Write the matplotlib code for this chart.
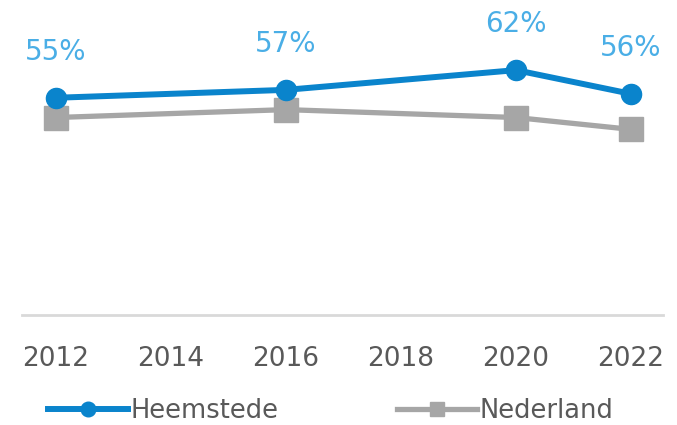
import matplotlib.pyplot as plt
from matplotlib.lines import Line2D

years = [2012, 2016, 2020, 2022]
heemstede = [55, 57, 62, 56]
nederland = [50, 52, 50, 47]
xticks = [2012, 2014, 2016, 2018, 2020, 2022]
series_names = ['Heemstede', 'Nederland']

blue = '#0A84CC'
label_blue = '#4AAEE6'
grey = '#A6A6A6'
text_grey = '#595959'

fig = plt.figure(figsize=(6.77, 4.25), dpi=100)
ax = fig.add_axes([0.0325, 0.2588, 0.947, 0.7435])

ax.plot(years, nederland, color=grey, lw=3.8, marker='s', ms=17, zorder=2)
ax.plot(years, heemstede, color=blue, lw=4.3, marker='o', ms=14.5, zorder=3)

for x, y in zip(years, heemstede):
    ax.annotate(f'{y}%', (x, y), xytext=(0, 33), textcoords='offset points',
                ha='center', va='center', fontsize=20, color=label_blue,
                annotation_clip=False)

ax.set_xlim(2011.41, 2022.56)
ax.set_ylim(0, 80)
ax.set_xticks(xticks)
ax.set_xticklabels([str(t) for t in xticks], fontsize=19, color=text_grey)
ax.tick_params(axis='x', length=0, pad=22)
ax.set_yticks([])
for s in ['top', 'right', 'left']:
    ax.spines[s].set_visible(False)
ax.spines['bottom'].set_color('#D9D9D9')
ax.spines['bottom'].set_linewidth(2)

# two separate legend entries, placed like the original
handles = [
    Line2D([], [], color=blue, lw=4.3, marker='o', ms=10.5),
    Line2D([], [], color=grey, lw=3.8, marker='s', ms=10),
]
for h, name, xpos in zip(handles, series_names, [48 / 677, 397 / 677]):
    fig.legend([h], [name], loc='center left', bbox_to_anchor=(xpos, 0.033),
               frameon=False, fontsize=18.5, labelcolor=text_grey,
               handlelength=3.1, handletextpad=0.1, borderpad=0,
               borderaxespad=0)

fig.savefig('out.png', dpi=100)
